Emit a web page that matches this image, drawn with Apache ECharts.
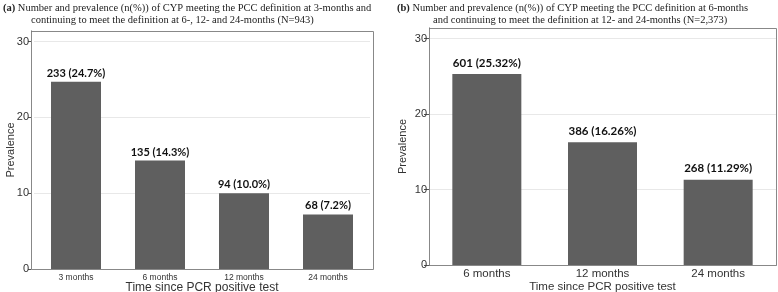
<!DOCTYPE html>
<html><head><meta charset="utf-8">
<script src="https://cdn.jsdelivr.net/npm/echarts@6/dist/echarts.min.js"></script>
<style>html,body{margin:0;padding:0;background:#fff}#c{width:778px;height:292px}</style>
</head><body><div id="c"></div>
<script>
const catsA = ['3 months', '6 months', '12 months', '24 months'];
const prevA = [24.7, 14.3, 10.0, 7.2];
const countA = [233, 135, 94, 68];
const catsB = ['6 months', '12 months', '24 months'];
const prevB = [25.32, 16.26, 11.29];
const countB = [601, 386, 268];
const yTicks = [0, 10, 20, 30];

const titleA1 = 'Number and prevalence (n(%)) of CYP meeting the PCC definition at 3-months and';
const titleA2 = 'continuing to meet the definition at 6-, 12- and 24-months (N=943)';
const titleB1 = 'Number and prevalence (n(%)) of CYP meeting the PCC definition at 6-months';
const titleB2 = 'and continuing to meet the definition at 12- and 24-months (N=2,373)';

const barColor = '#5f5f5f';
const serif = '"Liberation Serif", "Times New Roman", serif';
const sans = '"Liberation Sans", Arial, sans-serif';
const lblFont = 'Lato, "Open Sans", sans-serif';

function yAxisCfg(gi, offset, gap, tickLen) {
  return {
    gridIndex: gi, type: 'value', min: 0, max: 31.4, interval: 10, offset: offset,
    name: 'Prevalence', nameLocation: 'middle', nameGap: gap, nameMoveOverlap: false,
    nameTextStyle: {fontFamily: sans, fontSize: 11, color: '#333'},
    axisLine: {show: true, lineStyle: {color: '#555'}},
    axisTick: {show: true, length: tickLen, lineStyle: {color: '#555'}},
    axisLabel: {fontFamily: sans, fontSize: 11, color: '#333', margin: 2, showMaxLabel: false},
    splitLine: {show: true, lineStyle: {color: '#e8e8e8'}}
  };
}
const titleStyle = {fontFamily: serif, fontSize: 10.5, fontWeight: 'normal', color: '#222',
  rich: {b: {fontFamily: serif, fontSize: 10.5, fontWeight: 'bold', color: '#222'}}};

const chart = echarts.init(document.getElementById('c'), null, {renderer: 'canvas'});
chart.setOption({
  animation: false,
  backgroundColor: '#fff',
  title: [
    {text: '{b|(a)} ' + titleA1, left: 3, top: 3, padding: 0, textStyle: titleStyle},
    {text: titleA2, left: 31, top: 15, padding: 0, textStyle: titleStyle},
    {text: '{b|(b)} ' + titleB1, left: 397, top: 3, padding: 0, textStyle: titleStyle},
    {text: titleB2, left: 433, top: 15, padding: 0, textStyle: titleStyle}
  ],
  grid: [
    {left: 34, width: 336, top: 31, height: 238, containLabel: false, outerBoundsMode: 'none'},
    {left: 429, width: 347, top: 28, height: 237, containLabel: false, outerBoundsMode: 'none'}
  ],
  xAxis: [
    {gridIndex: 0, type: 'category', data: catsA,
     name: 'Time since PCR positive test', nameLocation: 'middle', nameGap: 13, nameMoveOverlap: false,
     nameTextStyle: {fontFamily: sans, fontSize: 12, color: '#333'},
     axisLine: {show: true, lineStyle: {color: '#555'}}, axisTick: {show: false},
     axisLabel: {fontFamily: sans, fontSize: 8.5, color: '#333', margin: 4}},
    {gridIndex: 1, type: 'category', data: catsB,
     name: 'Time since PCR positive test', nameLocation: 'middle', nameGap: 16, nameMoveOverlap: false,
     nameTextStyle: {fontFamily: sans, fontSize: 11.5, color: '#333'},
     axisLine: {show: true, lineStyle: {color: '#555'}}, axisTick: {show: false},
     axisLabel: {fontFamily: sans, fontSize: 11.5, color: '#333', margin: 3}}
  ],
  yAxis: [yAxisCfg(0, 3, 15, 3), yAxisCfg(1, 0, 21, 5)],
  graphic: [
    {type: 'rect', shape: {x: 31.5, y: 31.5, width: 342, height: 238}, style: {fill: 'none', stroke: '#888', lineWidth: 1}, z: 100},
    {type: 'rect', shape: {x: 429.5, y: 28.5, width: 347, height: 237}, style: {fill: 'none', stroke: '#888', lineWidth: 1}, z: 100}
  ],
  series: [
    {type: 'bar', xAxisIndex: 0, yAxisIndex: 0, data: prevA, barWidth: 50,
     itemStyle: {color: barColor},
     label: {show: true, position: 'top', distance: 3, fontFamily: lblFont, fontSize: 11, fontWeight: 'bold', color: '#111',
       formatter: p => countA[p.dataIndex] + ' (' + prevA[p.dataIndex].toFixed(1) + '%)'}},
    {type: 'bar', xAxisIndex: 1, yAxisIndex: 1, data: prevB, barWidth: 69,
     itemStyle: {color: barColor},
     label: {show: true, position: 'top', distance: 5, fontFamily: lblFont, fontSize: 11.5, fontWeight: 'bold', color: '#111',
       formatter: p => countB[p.dataIndex] + ' (' + prevB[p.dataIndex].toFixed(2) + '%)'}}
  ]
});
</script></body></html>
